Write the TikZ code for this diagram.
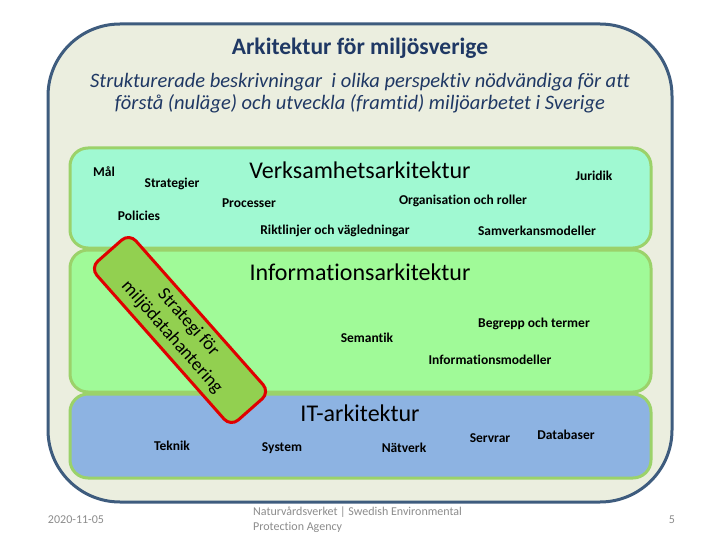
\documentclass[tikz,border=0pt]{standalone}
\usepackage{fontspec}
\setmainfont{Carlito}[Ligatures=NoCommon]
\definecolor{outerblue}{HTML}{3E5C7E}
\definecolor{outerfill}{HTML}{EBEEDF}
\definecolor{layerline}{HTML}{9BD26A}
\definecolor{verkfill}{HTML}{A0F9D2}
\definecolor{infofill}{HTML}{A0FA98}
\definecolor{itfill}{HTML}{8DB3E2}
\definecolor{stratfill}{HTML}{92D050}
\definecolor{stratline}{HTML}{E00000}
\definecolor{titleblue}{HTML}{1F3864}
\definecolor{footgray}{HTML}{8C8C8C}
\begin{document}
\begin{tikzpicture}[x=1pt,y=1pt,
  outerbox/.style={draw=outerblue, line width=3pt, fill=outerfill, rounded corners=72pt},
  layerbox/.style={draw=layerline, line width=3pt, rounded corners=18pt},
  lbl/.style={font=\fontsize{13.5}{16}\selectfont\bfseries, inner sep=0pt},
  head/.style={font=\fontsize{24}{28}\selectfont, inner sep=0pt},
  foot/.style={font=\fontsize{12}{15}\selectfont, text=footgray, inner sep=0pt}]
\useasboundingbox (0,0) rectangle (720,-540);
\fill[white] (0,0) rectangle (720,-540);
% outer frame
\draw[outerbox] (48,-24) rectangle (672,-502);
\node[font=\fontsize{23.5}{28}\selectfont\bfseries, text=titleblue, inner sep=0pt] (title) at (360,-48) {Arkitektur för miljösverige};
\node[font=\fontsize{20.5}{22}\selectfont\itshape, text=titleblue, align=center, inner sep=0pt] (sub) at (360,-93)
  {Strukturerade beskrivningar\ \ i olika perspektiv nödvändiga för att\\förstå (nuläge) och utveckla (framtid) miljöarbetet i Sverige};
% layers
\draw[layerbox, fill=verkfill] (70,-148) rectangle (651,-248);
\draw[layerbox, fill=infofill] (70,-250) rectangle (651,-392);
\draw[layerbox, fill=itfill] (70,-394) rectangle (651,-478);
% layer 1 texts
\node[head] (verk) at (360,-170) {Verksamhetsarkitektur};
\node[lbl] (mal) at (104,-172) {Mål};
\node[lbl] (strat) at (172,-184) {Strategier};
\node[lbl] (pol) at (139,-216) {Policies};
\node[lbl] (jur) at (594,-176) {Juridik};
\node[lbl] (proc) at (249,-203) {Processer};
\node[lbl] (org) at (463,-201) {Organisation och roller};
\node[lbl] (rikt) at (335,-231) {Riktlinjer och vägledningar};
\node[lbl] (samv) at (537,-231) {Samverkansmodeller};
% layer 2 texts
\node[head] (info) at (360,-272) {Informationsarkitektur};
\node[lbl] (sem) at (367,-338) {Semantik};
\node[lbl] (beg) at (534,-324) {Begrepp och termer};
\node[lbl] (imod) at (490,-360) {Informationsmodeller};
% layer 3 texts
\node[head] (it) at (360,-413) {IT-arkitektur};
\node[lbl] (tek) at (172,-446) {Teknik};
\node[lbl] (sys) at (282,-448) {System};
\node[lbl] (nat) at (404,-448) {Nätverk};
\node[lbl] (serv) at (490,-438) {Servrar};
\node[lbl] (db) at (566,-435) {Databaser};
% strategy box
\node[draw=stratline, line width=3pt, fill=stratfill, rounded corners=10pt,
  minimum width=212pt, minimum height=52pt, inner sep=0pt, align=center,
  rotate=-48.5, font=\fontsize{18.5}{22}\selectfont] (sbox) at (180,-330)
  {Strategi för\\miljödatahantering};
% footer
\node[foot] (date) at (76,-520) {2020-11-05};
\node[foot, align=left, anchor=west] (org2) at (253,-520) {Naturvårdsverket | Swedish Environmental\\Protection Agency};
\node[foot] (page) at (672,-520) {5};
\end{tikzpicture}
\end{document}
